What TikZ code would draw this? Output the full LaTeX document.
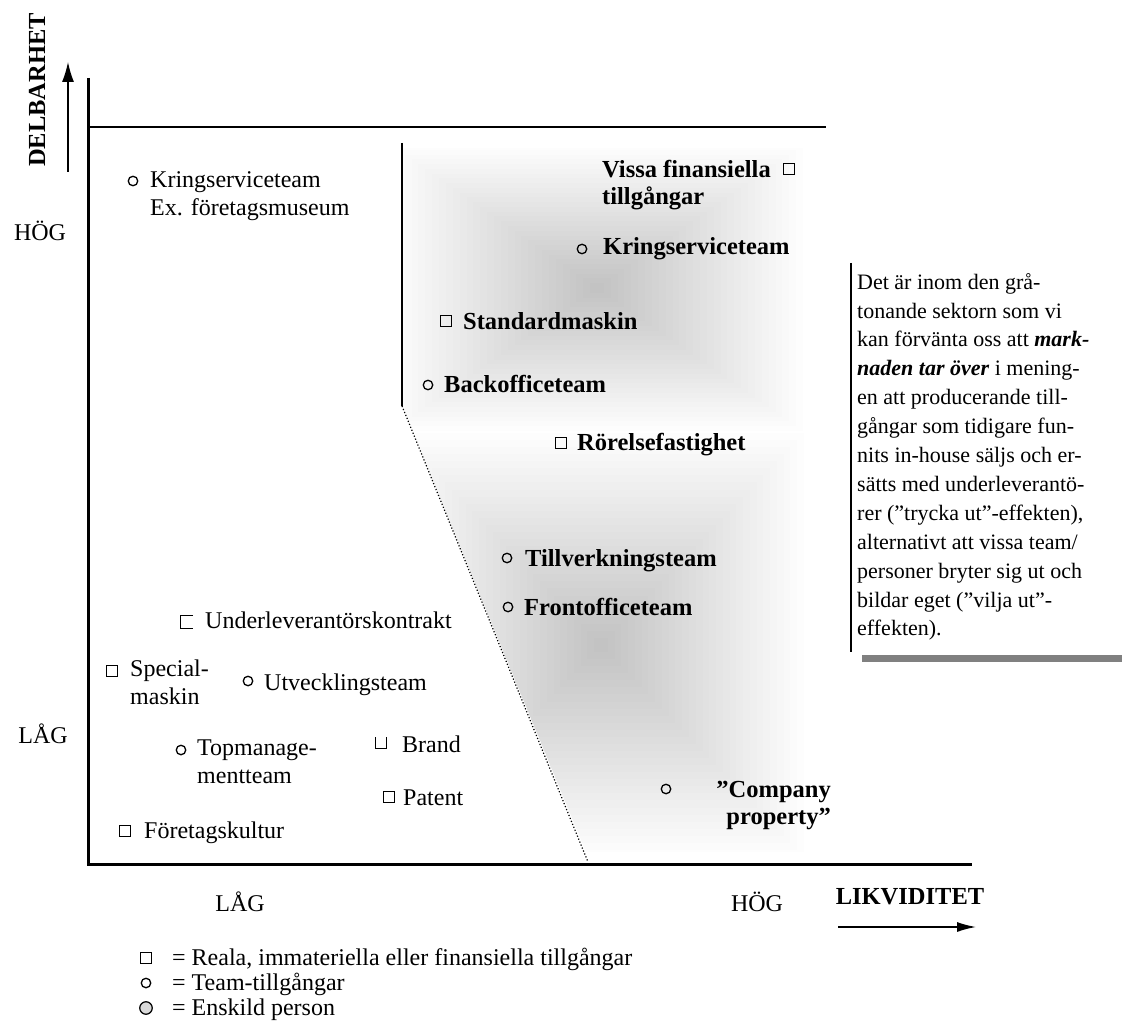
\documentclass[tikz,border=0pt]{standalone}
\usepackage{fontspec}
\setmainfont{Liberation Serif}
\usetikzlibrary{positioning,arrows.meta}

\tikzset{
  sqmark/.style={draw, rectangle, minimum size=11.5pt, inner sep=0pt, line width=1.2pt},
  cimark/.style={draw, circle, minimum size=9.5pt, inner sep=0pt, line width=1.3pt},
  lbl/.style={inner sep=0pt, font=\fontsize{24}{28}\selectfont},
  blbl/.style={inner sep=0pt, font=\fontsize{24.5}{27}\selectfont\bfseries},
  axis/.style={line width=3pt},
  haze/.style={fill=black, fill opacity=0.0085},
}

\begin{document}
\begin{tikzpicture}[x=1pt, y=-1pt]
  \useasboundingbox (0,0) rectangle (1122,1032);

  % the grey sector, rectangular fade towards its centres
  \begin{scope}
    \clip (402,148) -- (805,148) -- (805,852) -- (586,852) -- (402,406) -- cycle;
    \foreach \k in {0,...,29} {
      \pgfmathsetmacro\f{1-\k/30}
      \fill[haze] (597-206*\f,288-143*\f) rectangle (597+206*\f,288+143*\f);
      \fill[haze] (601-203*\f,645-212*\f) rectangle (601+203*\f,645+212*\f);
    }
  \end{scope}

  % axes
  \coordinate (ytop) at (88,78);
  \coordinate (o) at (88,864);
  \coordinate (xend) at (972,864);
  \coordinate (tl) at (88,127);
  \coordinate (tr) at (826,127);
  \draw[axis] (ytop) -- (o) -- (xend);
  \draw[line width=1.3pt] (tl) -- (tr);

  \coordinate (ua1) at (68,172);
  \coordinate (ua2) at (68,62);
  \draw[line width=1.3pt, -{Latex[length=20pt,width=12pt]}] (ua1) -- (ua2);
  \coordinate (ra1) at (838,927);
  \coordinate (ra2) at (976,927);
  \draw[line width=1.4pt, -{Latex[length=19pt,width=10pt]}] (ra1) -- (ra2);

  % border of the sector
  \coordinate (b1) at (402,143);
  \coordinate (b2) at (402,406);
  \coordinate (b3) at (588,862);
  \draw[line width=1.2pt] (b1) -- (b2);
  \draw[line width=1.2pt, dotted] (b2) -- (b3);

  % axis labels
  \node[blbl, rotate=90] (delb) at (37,90) {DELBARHET};
  \node[lbl, anchor=base] (yhog) at (40,241) {HÖG};
  \node[lbl, anchor=base] (ylag) at (43,743) {LÅG};
  \node[lbl, anchor=base] (xlag) at (240,911) {LÅG};
  \node[lbl, anchor=base] (xhog) at (757,911) {HÖG};
  \node[blbl, anchor=base] (likv) at (910,904) {LIKVIDITET};

  % items outside the sector
  \node[cimark] (krs1m) at (133,181) {};
  \node[lbl, anchor=north west, align=left] (krs1) at (150,171) {Kringserviceteam\\Ex. företagsmuseum};
  \node[inner sep=0pt, minimum size=12pt] (underm) at (187,622) {};
  \draw[line width=1.2pt] (underm.north east) -- (underm.north west) -- (underm.south west) -- (underm.south east);
  \node[lbl, anchor=base west] (under) at (205,628) {Underleverantörskontrakt};
  \node[sqmark] (specm) at (112,671) {};
  \node[lbl, anchor=north west, align=left] (spec) at (130,660) {Special-\\maskin};
  \node[cimark] (utvm) at (248,681) {};
  \node[lbl, anchor=base west] (utv) at (264,690) {Utvecklingsteam};
  \node[cimark] (topm) at (181,750) {};
  \node[lbl, anchor=north west, align=left] (top) at (197,740) {Topmanage-\\mentteam};
  \node[inner sep=0pt, minimum size=11pt] (brandm) at (381,743) {};
  \draw[line width=1.2pt] (brandm.north west) -- (brandm.south west) -- (brandm.south east) -- (brandm.north east);
  \node[lbl, anchor=base west] (brand) at (402,752) {Brand};
  \node[sqmark] (patm) at (389,797) {};
  \node[lbl, anchor=base west] (pat) at (403,805) {Patent};
  \node[sqmark] (kultm) at (125,831) {};
  \node[lbl, anchor=base west] (kult) at (144,838) {Företagskultur};

  % items inside the sector
  \node[blbl, anchor=north west, align=left] (vissa) at (602,160) {Vissa finansiella\\tillgångar};
  \node[sqmark] (vissam) at (789,169) {};
  \node[cimark] (krs2m) at (582,249) {};
  \node[blbl, anchor=base west] (krs2) at (603,255) {Kringserviceteam};
  \node[sqmark] (stdm) at (446,321) {};
  \node[blbl, anchor=base west] (std) at (463,330) {Standardmaskin};
  \node[cimark] (backm) at (428,385) {};
  \node[blbl, anchor=base west] (back) at (444,392) {Backofficeteam};
  \node[sqmark] (rorm) at (561,443) {};
  \node[blbl, anchor=base west] (ror) at (577,450) {Rörelsefastighet};
  \node[cimark] (tillm) at (507,558) {};
  \node[blbl, anchor=base west] (till) at (525,566) {Tillverkningsteam};
  \node[cimark] (frontm) at (508,607) {};
  \node[blbl, anchor=base west] (front) at (524,615) {Frontofficeteam};
  \node[cimark] (compm) at (666,789) {};
  \node[blbl, anchor=north east, align=right] (comp) at (831,781) {”Company\\property”};

  % comment box
  \coordinate (tb1) at (851,263);
  \coordinate (tb2) at (851,652);
  \draw[line width=1.5pt] (tb1) -- (tb2);
  \fill[black!50] (862,655) rectangle (1122,662);
  \node[inner sep=0pt, anchor=north west, align=left, font=\fontsize{22}{28.9}\selectfont] (note) at (857,273) {Det är inom den grå-\\tonande sektorn som vi\\kan förvänta oss att \textbf{\itshape mark-}\\\textbf{\itshape naden tar över} i mening-\\en att producerande till-\\gångar som tidigare fun-\\nits in-house säljs och er-\\sätts med underleverantö-\\rer (”trycka ut”-effekten),\\alternativt att vissa team/\\personer bryter sig ut och\\bildar eget (”vilja ut”-\\effekten).};

  % legend
  \node[sqmark] (legsq) at (146,958) {};
  \node[lbl, anchor=base west] (legsqt) at (172,965) {= Reala, immateriella eller finansiella tillgångar};
  \node[cimark] (legci) at (146,983) {};
  \node[lbl, anchor=base west] (legcit) at (172,990) {= Team-tillgångar};
  \node[draw, circle, fill=black!15, minimum size=12.5pt, inner sep=0pt, line width=1.2pt] (legpe) at (146,1008) {};
  \node[lbl, anchor=base west] (legpet) at (172,1015) {= Enskild person};
\end{tikzpicture}
\end{document}
